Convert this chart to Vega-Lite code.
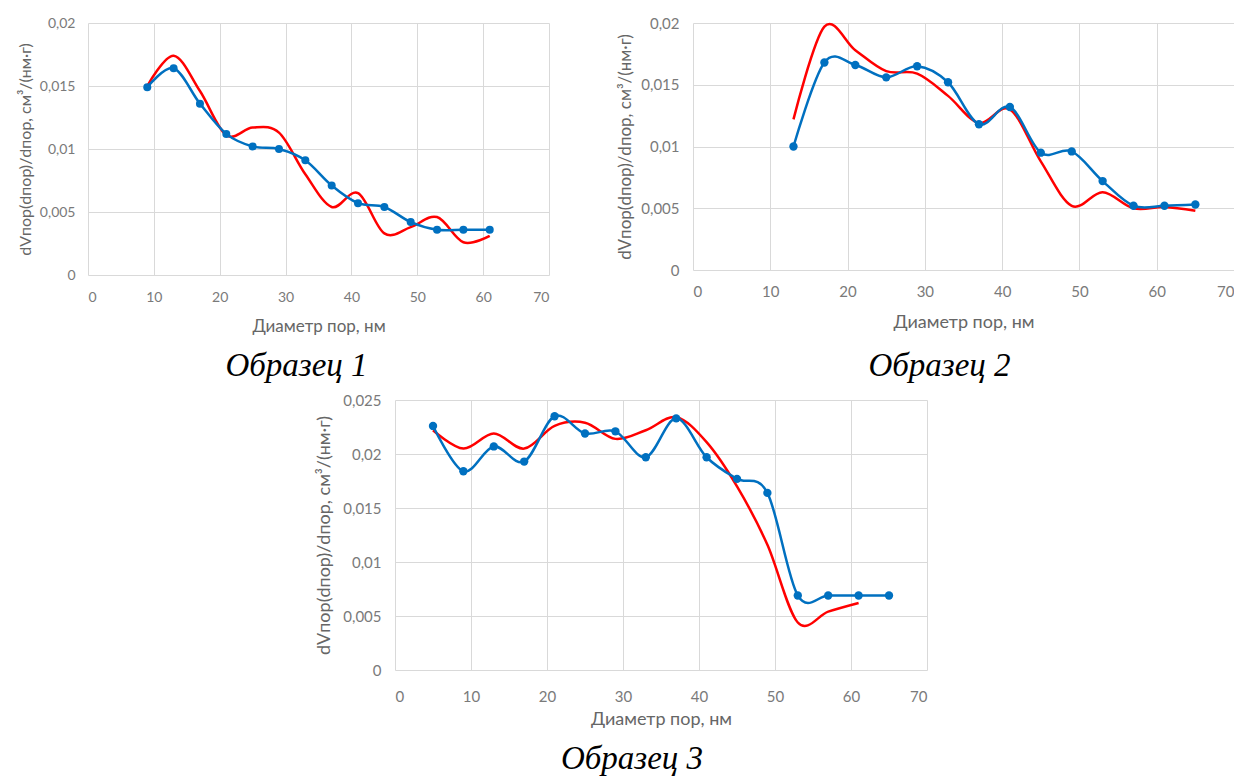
{
  "$schema": "https://vega.github.io/schema/vega-lite/v6.json",
  "background": "white",
  "padding": {"left": 17, "top": 16, "right": 0, "bottom": 0},
  "datasets": {
    "p1": [
      {"s": "b", "d": 9, "v": 0.0149}, {"s": "b", "d": 13, "v": 0.0164}, {"s": "b", "d": 17, "v": 0.0136}, {"s": "b", "d": 21, "v": 0.0112},
      {"s": "b", "d": 25, "v": 0.0102}, {"s": "b", "d": 29, "v": 0.0100}, {"s": "b", "d": 33, "v": 0.0091}, {"s": "b", "d": 37, "v": 0.0071},
      {"s": "b", "d": 41, "v": 0.0057}, {"s": "b", "d": 45, "v": 0.0054}, {"s": "b", "d": 49, "v": 0.0042}, {"s": "b", "d": 53, "v": 0.0036},
      {"s": "b", "d": 57, "v": 0.0036}, {"s": "b", "d": 61, "v": 0.0036},
      {"s": "r", "d": 9, "v": 0.0150}, {"s": "r", "d": 13, "v": 0.0174}, {"s": "r", "d": 17, "v": 0.0146}, {"s": "r", "d": 21, "v": 0.0111},
      {"s": "r", "d": 25, "v": 0.0117}, {"s": "r", "d": 29, "v": 0.0113}, {"s": "r", "d": 33, "v": 0.0080}, {"s": "r", "d": 37, "v": 0.0054},
      {"s": "r", "d": 41, "v": 0.0065}, {"s": "r", "d": 45, "v": 0.0033}, {"s": "r", "d": 49, "v": 0.0038}, {"s": "r", "d": 53, "v": 0.0046},
      {"s": "r", "d": 57, "v": 0.0026}, {"s": "r", "d": 61, "v": 0.0031}
    ],
    "p2": [
      {"s": "b", "d": 13, "v": 0.0100}, {"s": "b", "d": 17, "v": 0.0168}, {"s": "b", "d": 21, "v": 0.0166}, {"s": "b", "d": 25, "v": 0.0156},
      {"s": "b", "d": 29, "v": 0.0165}, {"s": "b", "d": 33, "v": 0.0152}, {"s": "b", "d": 37, "v": 0.0118}, {"s": "b", "d": 41, "v": 0.0132},
      {"s": "b", "d": 45, "v": 0.0095}, {"s": "b", "d": 49, "v": 0.0096}, {"s": "b", "d": 53, "v": 0.0072}, {"s": "b", "d": 57, "v": 0.0052},
      {"s": "b", "d": 61, "v": 0.0052}, {"s": "b", "d": 65, "v": 0.0053},
      {"s": "r", "d": 13, "v": 0.0122}, {"s": "r", "d": 17, "v": 0.0197}, {"s": "r", "d": 21, "v": 0.0178}, {"s": "r", "d": 25, "v": 0.0161},
      {"s": "r", "d": 29, "v": 0.0159}, {"s": "r", "d": 33, "v": 0.0141}, {"s": "r", "d": 37, "v": 0.0119}, {"s": "r", "d": 41, "v": 0.0130},
      {"s": "r", "d": 45, "v": 0.0088}, {"s": "r", "d": 49, "v": 0.0052}, {"s": "r", "d": 53, "v": 0.0063}, {"s": "r", "d": 57, "v": 0.0050},
      {"s": "r", "d": 61, "v": 0.0051}, {"s": "r", "d": 65, "v": 0.0048}
    ],
    "p3": [
      {"s": "b", "d": 5, "v": 0.0226}, {"s": "b", "d": 9, "v": 0.0184}, {"s": "b", "d": 13, "v": 0.0207}, {"s": "b", "d": 17, "v": 0.0193},
      {"s": "b", "d": 21, "v": 0.0235}, {"s": "b", "d": 25, "v": 0.0219}, {"s": "b", "d": 29, "v": 0.0221}, {"s": "b", "d": 33, "v": 0.0197},
      {"s": "b", "d": 37, "v": 0.0233}, {"s": "b", "d": 41, "v": 0.0197}, {"s": "b", "d": 45, "v": 0.0177}, {"s": "b", "d": 49, "v": 0.0164},
      {"s": "b", "d": 53, "v": 0.0069}, {"s": "b", "d": 57, "v": 0.0069}, {"s": "b", "d": 61, "v": 0.0069}, {"s": "b", "d": 65, "v": 0.0069},
      {"s": "r", "d": 5, "v": 0.0222}, {"s": "r", "d": 9, "v": 0.0205}, {"s": "r", "d": 13, "v": 0.0219}, {"s": "r", "d": 17, "v": 0.0205},
      {"s": "r", "d": 21, "v": 0.0226}, {"s": "r", "d": 25, "v": 0.0229}, {"s": "r", "d": 29, "v": 0.0214}, {"s": "r", "d": 33, "v": 0.0222},
      {"s": "r", "d": 37, "v": 0.0234}, {"s": "r", "d": 41, "v": 0.0211}, {"s": "r", "d": 45, "v": 0.0170}, {"s": "r", "d": 49, "v": 0.0116},
      {"s": "r", "d": 53, "v": 0.0044}, {"s": "r", "d": 57, "v": 0.0054}, {"s": "r", "d": 61, "v": 0.0062}
    ]
  },
  "vconcat": [
    {
      "hconcat": [
        {
          "width": 461, "height": 252,
          "data": {"name": "p1"},
          "title": {"text": "Образец 1", "orient": "bottom", "anchor": "middle", "frame": "group", "font": "Liberation Serif", "fontStyle": "italic", "fontSize": 33, "fontWeight": "normal", "color": "#000000", "offset": 16, "dx": -22},
          "encoding": {
            "x": {"field": "d", "type": "quantitative", "scale": {"domain": [0, 70], "nice": false},
                  "axis": {"values": [0, 10, 20, 30, 40, 50, 60, 70], "title": "Диаметр пор, нм", "labelFontSize": 14, "labelPadding": 15, "titleFontSize": 17, "titlePadding": 14}},
            "y": {"field": "v", "type": "quantitative", "scale": {"domain": [0, 0.02], "nice": false},
                  "axis": {"values": [0, 0.005, 0.01, 0.015, 0.02], "labelExpr": "replace(format(datum.value, '~g'), '.', ',')", "title": "dVпор(dпор)/dпор, см³/(нм·г)", "labelFontSize": 14, "labelPadding": 13, "titleFontSize": 16, "titlePadding": 6}}
          },
          "layer": [
            {"transform": [{"filter": "datum.s === 'r'"}], "mark": {"type": "line", "interpolate": "cardinal", "color": "#ff0000", "strokeWidth": 2.5}},
            {"transform": [{"filter": "datum.s === 'b'"}], "mark": {"type": "line", "interpolate": "cardinal", "color": "#0070c0", "strokeWidth": 2.5}},
            {"transform": [{"filter": "datum.s === 'b'"}], "mark": {"type": "point", "filled": true, "opacity": 1, "color": "#0070c0", "size": 64}}
          ]
        },
        {
          "width": 541, "height": 247,
          "data": {"name": "p2"},
          "title": {"text": "Образец 2", "orient": "bottom", "anchor": "middle", "frame": "group", "font": "Liberation Serif", "fontStyle": "italic", "fontSize": 33, "fontWeight": "normal", "color": "#000000", "offset": 19, "dx": -24},
          "encoding": {
            "x": {"field": "d", "type": "quantitative", "scale": {"domain": [0, 70], "nice": false},
                  "axis": {"values": [0, 10, 20, 30, 40, 50, 60, 70], "title": "Диаметр пор, нм", "labelFontSize": 15, "labelPadding": 14, "titleFontSize": 18, "titlePadding": 14}},
            "y": {"field": "v", "type": "quantitative", "scale": {"domain": [0, 0.02], "nice": false},
                  "axis": {"values": [0, 0.005, 0.01, 0.015, 0.02], "labelExpr": "replace(format(datum.value, '~g'), '.', ',')", "title": "dVпор(dпор)/dпор, см³/(нм·г)", "labelFontSize": 15, "labelPadding": 14, "titleFontSize": 17, "titlePadding": 6}}
          },
          "layer": [
            {"transform": [{"filter": "datum.s === 'r'"}], "mark": {"type": "line", "interpolate": "cardinal", "color": "#ff0000", "strokeWidth": 2.5}},
            {"transform": [{"filter": "datum.s === 'b'"}], "mark": {"type": "line", "interpolate": "cardinal", "color": "#0070c0", "strokeWidth": 2.5}},
            {"transform": [{"filter": "datum.s === 'b'"}], "mark": {"type": "point", "filled": true, "opacity": 1, "color": "#0070c0", "size": 70}}
          ]
        }
      ],
      "spacing": 144,
      "bounds": "flush"
    },
    {
      "width": 532, "height": 270,
      "data": {"name": "p3"},
      "title": {"text": "Образец 3", "orient": "bottom", "anchor": "middle", "frame": "group", "font": "Liberation Serif", "fontStyle": "italic", "fontSize": 33, "fontWeight": "normal", "color": "#000000", "offset": 15, "dx": -29},
      "encoding": {
        "x": {"field": "d", "type": "quantitative", "scale": {"domain": [0, 70], "nice": false},
              "axis": {"values": [0, 10, 20, 30, 40, 50, 60, 70], "title": "Диаметр пор, нм", "labelFontSize": 15, "labelPadding": 19, "titleFontSize": 18, "titlePadding": 6}},
        "y": {"field": "v", "type": "quantitative", "scale": {"domain": [0, 0.025], "nice": false},
              "axis": {"values": [0, 0.005, 0.01, 0.015, 0.02, 0.025], "labelExpr": "replace(format(datum.value, '~g'), '.', ',')", "title": "dVпор(dпор)/dпор, см³/(нм·г)", "labelFontSize": 15, "labelPadding": 14, "titleFontSize": 18, "titlePadding": 9}}
      },
      "layer": [
        {"transform": [{"filter": "datum.s === 'r'"}], "mark": {"type": "line", "interpolate": "cardinal", "color": "#ff0000", "strokeWidth": 2.5}},
        {"transform": [{"filter": "datum.s === 'b'"}], "mark": {"type": "line", "interpolate": "cardinal", "color": "#0070c0", "strokeWidth": 2.5}},
        {"transform": [{"filter": "datum.s === 'b'"}], "mark": {"type": "point", "filled": true, "opacity": 1, "color": "#0070c0", "size": 70}}
      ]
    }
  ],
  "spacing": 10,
  "center": true,
  "config": {
    "view": {"stroke": null},
    "axis": {
      "grid": true, "gridColor": "#d9d9d9", "gridWidth": 1, "domain": false, "ticks": false,
      "labelFont": "Lato", "labelColor": "#7a7a7a", "titleFont": "Lato", "titleColor": "#666666", "titleFontWeight": "normal"
    }
  }
}
